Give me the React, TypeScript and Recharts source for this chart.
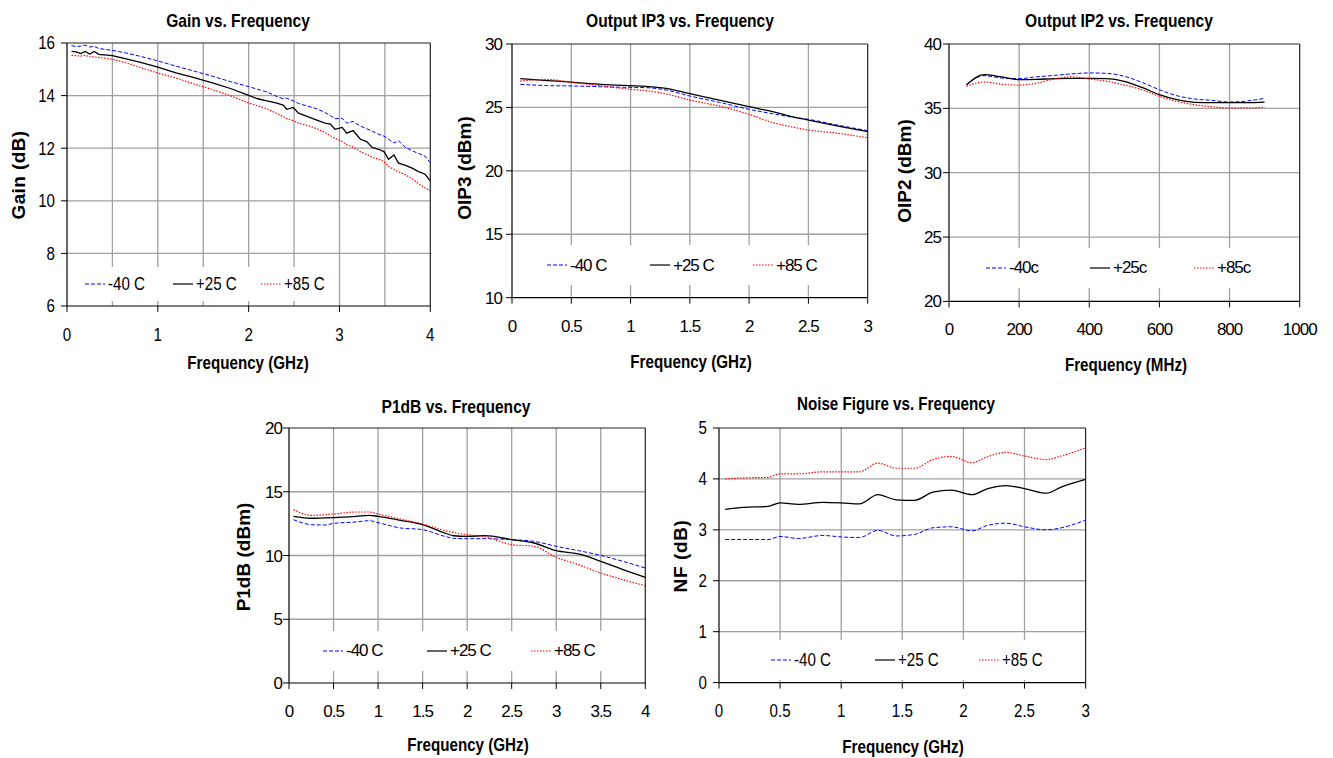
import React from "react";
import { LineChart, Line, XAxis, YAxis, CartesianGrid, ReferenceLine, Legend } from "recharts";

// ---- Gain vs. Frequency (GHz / dB)
const gainFreq = [0.05, 0.1, 0.15, 0.2, 0.25, 0.3, 0.35, 0.5, 0.65, 0.8, 1.0, 1.2, 1.4, 1.6, 1.8, 2.0, 2.1, 2.2, 2.3, 2.38, 2.42, 2.49, 2.55, 2.65, 2.75, 2.84, 2.9, 2.95, 3.03, 3.08, 3.15, 3.23, 3.3, 3.36, 3.43, 3.49, 3.54, 3.6, 3.65, 3.72, 3.8, 3.87, 3.94, 4.0];
const gainM40 = [15.9, 15.86, 15.88, 15.92, 15.85, 15.87, 15.79, 15.72, 15.62, 15.5, 15.32, 15.12, 14.93, 14.74, 14.53, 14.34, 14.24, 14.14, 13.98, 13.88, 13.9, 13.8, 13.7, 13.6, 13.5, 13.36, 13.24, 13.12, 13.14, 12.95, 13.02, 12.84, 12.74, 12.65, 12.53, 12.46, 12.34, 12.2, 12.28, 12.05, 11.9, 11.8, 11.7, 11.45];
const gainP25 = [15.68, 15.66, 15.6, 15.68, 15.58, 15.68, 15.57, 15.52, 15.4, 15.27, 15.08, 14.86, 14.68, 14.48, 14.27, 14.01, 13.88, 13.8, 13.72, 13.64, 13.48, 13.55, 13.33, 13.2, 13.07, 12.95, 12.92, 12.72, 12.79, 12.57, 12.67, 12.34, 12.25, 12.03, 11.96, 11.87, 11.58, 11.74, 11.43, 11.36, 11.24, 11.11, 11.02, 10.76];
const gainP85 = [15.53, 15.52, 15.5, 15.53, 15.48, 15.47, 15.45, 15.38, 15.25, 15.08, 14.86, 14.67, 14.44, 14.23, 13.99, 13.72, 13.61, 13.5, 13.34, 13.2, 13.12, 13.05, 12.95, 12.86, 12.74, 12.6, 12.48, 12.38, 12.25, 12.14, 12.04, 11.87, 11.76, 11.66, 11.58, 11.5, 11.3, 11.2, 11.1, 11.0, 10.84, 10.65, 10.5, 10.38];

// ---- Output IP3 (GHz / dBm)
const ip3Freq = [0.07, 0.3, 0.5, 0.75, 1.0, 1.13, 1.3, 1.5, 1.75, 2.0, 2.2, 2.35, 2.5, 2.75, 3.0];
const ip3M40 = [26.82, 26.72, 26.69, 26.63, 26.58, 26.56, 26.37, 25.9, 25.4, 24.85, 24.5, 24.25, 24.06, 23.6, 23.17];
const ip3P25 = [27.27, 27.12, 27.0, 26.82, 26.71, 26.66, 26.5, 26.08, 25.58, 25.06, 24.66, 24.3, 24.0, 23.53, 23.09];
const ip3P85 = [27.08, 27.2, 26.98, 26.7, 26.43, 26.32, 26.06, 25.58, 25.1, 24.45, 23.8, 23.48, 23.22, 22.96, 22.6];

// ---- Output IP2 (MHz / dBm)
const ip2Freq = [50, 100, 150, 200, 250, 300, 350, 400, 450, 500, 550, 600, 650, 700, 750, 800, 850, 900];
const ip2M40 = [36.84, 37.54, 37.36, 37.31, 37.45, 37.56, 37.68, 37.75, 37.72, 37.49, 37.02, 36.45, 35.98, 35.73, 35.62, 35.49, 35.57, 35.78];
const ip2P25 = [36.84, 37.62, 37.44, 37.23, 37.25, 37.31, 37.33, 37.33, 37.31, 37.1, 36.63, 36.06, 35.67, 35.47, 35.44, 35.44, 35.44, 35.49];
const ip2P85 = [36.71, 37.05, 36.87, 36.81, 36.95, 37.28, 37.44, 37.28, 37.1, 36.81, 36.45, 35.93, 35.54, 35.28, 35.12, 35.03, 35.03, 35.1];

// ---- P1dB (GHz / dBm)
const p1Freq = [0.05, 0.25, 0.4, 0.5, 0.75, 0.9, 1.0, 1.25, 1.5, 1.75, 1.85, 2.0, 2.2, 2.5, 2.75, 3.0, 3.25, 3.5, 3.75, 4.0];
const p1M40 = [12.81, 12.42, 12.39, 12.52, 12.63, 12.73, 12.58, 12.16, 12.03, 11.5, 11.35, 11.32, 11.32, 11.24, 11.11, 10.72, 10.38, 10.01, 9.54, 9.02];
const p1P25 = [13.07, 12.92, 12.95, 12.97, 13.07, 13.15, 13.07, 12.76, 12.42, 11.76, 11.55, 11.5, 11.56, 11.24, 10.98, 10.38, 10.12, 9.54, 8.89, 8.29];
const p1P85 = [13.59, 13.15, 13.2, 13.25, 13.41, 13.41, 13.25, 12.86, 12.47, 11.95, 11.8, 11.63, 11.48, 10.85, 10.72, 9.86, 9.28, 8.63, 8.1, 7.63];

// ---- Noise figure (GHz / dB)
const nfFreq = [0.05, 0.2, 0.4, 0.5, 0.65, 0.85, 1.0, 1.15, 1.3, 1.45, 1.6, 1.75, 1.9, 2.07, 2.2, 2.35, 2.5, 2.68, 2.8, 3.0];
const nfM40 = [2.81, 2.81, 2.81, 2.87, 2.83, 2.89, 2.86, 2.85, 2.99, 2.88, 2.91, 3.04, 3.06, 2.98, 3.09, 3.13, 3.06, 3.0, 3.04, 3.19];
const nfP25 = [3.4, 3.44, 3.46, 3.53, 3.5, 3.54, 3.53, 3.51, 3.69, 3.59, 3.58, 3.74, 3.78, 3.69, 3.81, 3.87, 3.81, 3.72, 3.84, 3.99];
const nfP85 = [4.0, 4.02, 4.03, 4.1, 4.1, 4.14, 4.14, 4.14, 4.31, 4.21, 4.21, 4.38, 4.44, 4.32, 4.44, 4.52, 4.45, 4.38, 4.45, 4.61];

const labelsC = ["-40 C", "+25 C", "+85 C"];
const labelsLower = ["-40c", "+25c", "+85c"];

const SANS = "'Liberation Sans', Arial, sans-serif";

const pts = (xs: number[], ys: number[]) => xs.map((x, i) => ({ x, y: ys[i] }));

const STYLES = [
  { color: "#0000ff", dash: "4 2", width: 1 },
  { color: "#000000", dash: undefined, width: 1.3 },
  { color: "#ff0000", dash: "1.5 1.5", width: 1.2 },
];

// fontSize, horizontal squeeze (narrow face emulation), letter spacing
type Font = { size: number; sx: number; ls: number };

const Tick = (props: any) => {
  const { x, y, payload, textAnchor, font, axis } = props;
  const f: Font = font;
  const dy = axis === "x" ? "0.71em" : "0.355em";
  return (
    <g transform={`translate(${x},${y}) scale(${f.sx},1)`}>
      <text x={0} y={0} dy={dy} textAnchor={textAnchor} fontSize={f.size} fontFamily={SANS} letterSpacing={f.ls} fill="#000">
        {payload.value}
      </text>
    </g>
  );
};

type PanelProps = {
  plot: { x: number; y: number; w: number; h: number };
  xDomain: [number, number];
  xTicks: number[];
  xGrid: number[];
  yDomain: [number, number];
  yTicks: number[];
  yGrid: number[];
  curve: "linear" | "monotone";
  names: string[];
  series: { x: number; y: number }[][];
  tickFont: Font;
  yTickMargin: number;
  legendBox: { x: number; y: number; w: number; h: number; pad: number; step: number };
};

const Panel = (p: PanelProps) => {
  const left = p.plot.x - 40;
  const top = p.plot.y - 10;
  const lb = p.legendBox;
  const f = p.tickFont;
  return (
    <div style={{ position: "absolute", left, top }}>
      <LineChart width={p.plot.w + 65} height={p.plot.h + 50} margin={{ top: 10, right: 25, bottom: 0, left: 0 }}>
        <CartesianGrid stroke="#a0a0a0" strokeWidth={1.3} verticalValues={p.xGrid} horizontalValues={p.yGrid} />
        <XAxis type="number" dataKey="x" domain={p.xDomain} ticks={p.xTicks} allowDataOverflow height={40}
          tickSize={6} tickMargin={16} tick={(tp: any) => <Tick {...tp} font={f} axis="x" />}
          axisLine={{ stroke: "#000", strokeWidth: 1.2 }} tickLine={{ stroke: "#000" }} />
        <YAxis type="number" dataKey="y" domain={p.yDomain} ticks={p.yTicks} allowDataOverflow width={40}
          tickSize={6} tickMargin={p.yTickMargin} tick={(tp: any) => <Tick {...tp} font={f} axis="y" />}
          axisLine={{ stroke: "#000", strokeWidth: 1.2 }} tickLine={{ stroke: "#000" }} />
        <ReferenceLine y={p.yDomain[1]} stroke="#222" strokeWidth={1.2} />
        <ReferenceLine x={p.xDomain[1]} stroke="#222" strokeWidth={1.2} />
        {p.series.map((d, i) => (
          <Line key={p.names[i]} data={d} dataKey="y" name={p.names[i]} type={p.curve} stroke={STYLES[i].color}
            strokeWidth={STYLES[i].width} strokeDasharray={STYLES[i].dash} dot={false} isAnimationActive={false} />
        ))}
        <Legend layout="horizontal" verticalAlign="middle" align="center"
          wrapperStyle={{ left: lb.x - left, top: lb.y - top, width: lb.w, height: lb.h, background: "#fff" }}
          content={() => (
            <div style={{ display: "flex", alignItems: "center", height: lb.h, paddingLeft: lb.pad, background: "#fff" }}>
              {p.names.map((n, i) => (
                <div key={n} style={{ display: "flex", alignItems: "center", width: lb.step, flex: "none" }}>
                  <svg width={20} height={4} style={{ display: "block" }}>
                    <line x1={0} y1={2} x2={20} y2={2} stroke={STYLES[i].color} strokeWidth={1.2} strokeDasharray={STYLES[i].dash} />
                  </svg>
                  <span style={{ marginLeft: 3, color: "#000", lineHeight: 1, display: "inline-block", whiteSpace: "nowrap",
                    fontFamily: SANS, fontSize: f.size, letterSpacing: f.ls, transform: `scaleX(${f.sx})`, transformOrigin: "left center" }}>{n}</span>
                </div>
              ))}
            </div>
          )}
        />
      </LineChart>
    </div>
  );
};

const Title = ({ x, y, text, size = 19 }: { x: number; y: number; text: string; size?: number }) => (
  <div style={{ position: "absolute", left: x, top: y, transform: "translate(-50%, -50%) scaleX(0.82)", whiteSpace: "nowrap",
    fontFamily: SANS, fontWeight: "bold", fontSize: size, lineHeight: 1, color: "#000" }}>{text}</div>
);

const YTitle = ({ x, y, text, spacing = 0 }: { x: number; y: number; text: string; spacing?: number }) => (
  <div style={{ position: "absolute", left: x, top: y, transform: "translate(-50%, -50%) rotate(-90deg)", whiteSpace: "nowrap",
    fontFamily: SANS, fontWeight: "bold", fontSize: 19, letterSpacing: spacing, lineHeight: 1, color: "#000" }}>{text}</div>
);

const narrowFont: Font = { size: 18, sx: 0.84, ls: 0 };
const tightFont: Font = { size: 17, sx: 1, ls: -1 };

export default function App() {
  return (
    <div style={{ position: "absolute", left: 0, top: 0, width: 1333, height: 758, background: "#fff", overflow: "hidden" }}>
      <Panel plot={{ x: 66.7, y: 43, w: 363.3, h: 263 }} xDomain={[0, 4]} xTicks={[0, 1, 2, 3, 4]}
        xGrid={[0.5, 1, 1.5, 2, 2.5, 3, 3.5]} yDomain={[6, 16]} yTicks={[6, 8, 10, 12, 14, 16]} yGrid={[8, 10, 12, 14]}
        curve="linear" names={labelsC} series={[pts(gainFreq, gainM40), pts(gainFreq, gainP25), pts(gainFreq, gainP85)]}
        tickFont={narrowFont} yTickMargin={6} legendBox={{ x: 70, y: 267, w: 265, h: 34, pad: 15, step: 88 }} />
      <Panel plot={{ x: 512.3, y: 44, w: 355.7, h: 253.7 }} xDomain={[0, 3]} xTicks={[0, 0.5, 1, 1.5, 2, 2.5, 3]}
        xGrid={[0.5, 1, 1.5, 2, 2.5]} yDomain={[10, 30]} yTicks={[10, 15, 20, 25, 30]} yGrid={[15, 20, 25]}
        curve="monotone" names={labelsC} series={[pts(ip3Freq, ip3M40), pts(ip3Freq, ip3P25), pts(ip3Freq, ip3P85)]}
        tickFont={tightFont} yTickMargin={4} legendBox={{ x: 535, y: 245, w: 305, h: 40, pad: 12, step: 103 }} />
      <Panel plot={{ x: 949.3, y: 44.3, w: 350.7, h: 257.4 }} xDomain={[0, 1000]} xTicks={[0, 200, 400, 600, 800, 1000]}
        xGrid={[200, 400, 600, 800]} yDomain={[20, 40]} yTicks={[20, 25, 30, 35, 40]} yGrid={[25, 30, 35]}
        curve="monotone" names={labelsLower} series={[pts(ip2Freq, ip2M40), pts(ip2Freq, ip2P25), pts(ip2Freq, ip2P85)]}
        tickFont={tightFont} yTickMargin={2} legendBox={{ x: 978, y: 248, w: 285, h: 40, pad: 8, step: 104 }} />
      <Panel plot={{ x: 288.7, y: 428.3, w: 356.3, h: 255 }} xDomain={[0, 4]} xTicks={[0, 0.5, 1, 1.5, 2, 2.5, 3, 3.5, 4]}
        xGrid={[0.5, 1, 1.5, 2, 2.5, 3, 3.5]} yDomain={[0, 20]} yTicks={[0, 5, 10, 15, 20]} yGrid={[5, 10, 15]}
        curve="monotone" names={labelsC} series={[pts(p1Freq, p1M40), pts(p1Freq, p1P25), pts(p1Freq, p1P85)]}
        tickFont={tightFont} yTickMargin={1} legendBox={{ x: 316, y: 631, w: 292, h: 40, pad: 7, step: 104 }} />
      <Panel plot={{ x: 718.7, y: 427.7, w: 366.6, h: 254.6 }} xDomain={[0, 3]} xTicks={[0, 0.5, 1, 1.5, 2, 2.5, 3]}
        xGrid={[0.5, 1, 1.5, 2, 2.5]} yDomain={[0, 5]} yTicks={[0, 1, 2, 3, 4, 5]} yGrid={[1, 2, 3, 4]}
        curve="monotone" names={labelsC} series={[pts(nfFreq, nfM40), pts(nfFreq, nfP25), pts(nfFreq, nfP85)]}
        tickFont={narrowFont} yTickMargin={6} legendBox={{ x: 762, y: 640, w: 300, h: 40, pad: 9, step: 104 }} />

      <Title x={237.7} y={20} text="Gain vs. Frequency" />
      <Title x={680} y={20} text="Output IP3 vs. Frequency" />
      <Title x={1118.7} y={20} text="Output IP2 vs. Frequency" />
      <Title x={456.3} y={405.7} text="P1dB vs. Frequency" />
      <Title x={895.5} y={404.3} text="Noise Figure vs. Frequency" size={18.5} />

      <Title x={248.3} y={363.3} text="Frequency (GHz)" size={18.5} />
      <Title x={690.8} y={361.7} text="Frequency (GHz)" size={18.5} />
      <Title x={1125.8} y={365} text="Frequency (MHz)" size={18.5} />
      <Title x={467.5} y={745} text="Frequency (GHz)" size={18.5} />
      <Title x={902.5} y={746.7} text="Frequency (GHz)" size={18.5} />

      <YTitle x={18} y={175} text="Gain (dB)" spacing={0.4} />
      <YTitle x={464.2} y={168.3} text="OIP3 (dBm)" />
      <YTitle x={904.2} y={170.8} text="OIP2 (dBm)" />
      <YTitle x={242.5} y={556.7} text="P1dB (dBm)" />
      <YTitle x={679.5} y={555.8} text="NF (dB)" spacing={0.6} />
    </div>
  );
}
